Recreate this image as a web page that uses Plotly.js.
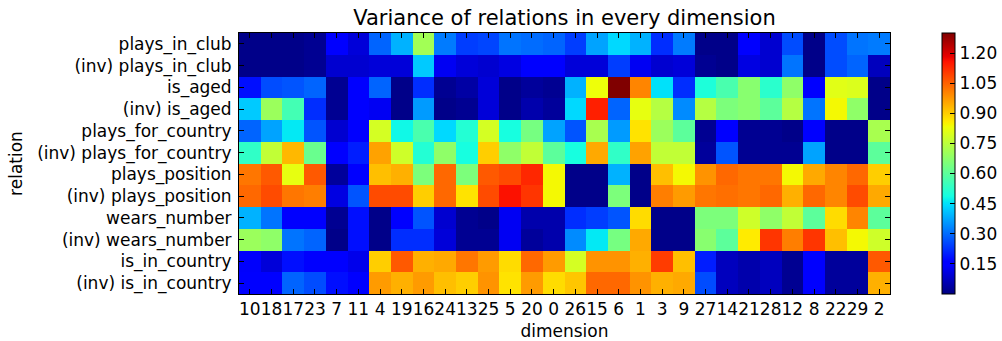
<!DOCTYPE html>
<html>
<head>
<meta charset="utf-8">
<script src="https://cdn.plot.ly/plotly-3.0.1.min.js"></script>
<style>
  html, body { margin: 0; padding: 0; background: #fff; }
  #chart { width: 1002px; height: 341px; }
</style>
</head>
<body>
<div id="chart"></div>
<script>
// Dimension order along the x axis (columns of the heatmap)
const dimensions = ["10","18","17","23","7","11","4","19","16","24","13","25","5","20","0",
                    "26","15","6","1","3","9","27","14","21","28","12","8","22","29","2"];

// Relations along the y axis, top to bottom
const relations = [
  "plays_in_club", "(inv) plays_in_club",
  "is_aged", "(inv) is_aged",
  "plays_for_country", "(inv) plays_for_country",
  "plays_position", "(inv) plays_position",
  "wears_number", "(inv) wears_number",
  "is_in_country", "(inv) is_in_country"
];

// Variance per relation, one value per dimension (same order as `dimensions`)
const playsInClub        = [0.01,0.01,0.01,0.02,0.16,0.10,0.29,0.39,0.71,0.32,0.24,0.25,0.31,0.30,0.29,0.24,0.37,0.44,0.39,0.22,0.32,0.01,0.01,0.15,0.09,0.26,0.01,0.26,0.31,0.32];
const invPlaysInClub     = [0.01,0.01,0.01,0.02,0.09,0.09,0.10,0.10,0.42,0.13,0.10,0.09,0.11,0.16,0.15,0.10,0.10,0.24,0.13,0.09,0.10,0.02,0.01,0.11,0.09,0.31,0.01,0.26,0.29,0.07];
const isAged             = [0.18,0.26,0.27,0.29,0.02,0.15,0.29,0.01,0.22,0.02,0.04,0.10,0.01,0.03,0.02,0.39,0.83,1.30,1.00,0.45,0.22,0.50,0.57,0.67,0.52,0.68,0.15,0.81,0.80,0.01];
const invIsAged          = [0.42,0.70,0.56,0.22,0.02,0.15,0.13,0.01,0.36,0.01,0.02,0.10,0.01,0.05,0.03,0.44,1.14,0.29,0.82,0.74,0.34,0.74,0.65,0.67,0.60,0.74,0.31,0.84,0.68,0.01];
const playsForCountry    = [0.29,0.37,0.46,0.27,0.09,0.16,0.79,0.48,0.57,0.44,0.51,0.79,0.49,0.64,0.37,0.27,0.72,0.36,0.87,0.70,0.60,0.02,0.15,0.02,0.02,0.01,0.15,0.01,0.01,0.72];
const invPlaysForCountry = [0.53,0.76,0.93,0.62,0.15,0.20,0.96,0.78,0.51,0.68,0.49,0.90,0.68,0.76,0.60,0.49,0.95,0.53,0.96,0.76,0.76,0.03,0.27,0.02,0.02,0.02,0.37,0.01,0.01,0.60];
const playsPosition      = [1.02,1.06,0.82,1.06,0.03,0.15,0.92,0.94,0.65,1.04,0.65,1.06,1.08,1.13,0.84,0.01,0.01,0.39,0.01,0.92,0.84,0.98,1.04,1.02,1.02,0.84,0.95,1.00,1.04,0.90];
const invPlaysPosition   = [1.04,1.08,1.02,1.01,0.11,0.27,1.08,1.08,0.90,1.04,0.87,1.08,1.16,1.11,0.84,0.01,0.01,0.65,0.01,1.01,0.97,1.02,1.03,1.02,1.04,0.94,1.04,1.00,1.08,0.95];
const wearsNumber        = [0.39,0.31,0.16,0.16,0.02,0.18,0.01,0.15,0.27,0.09,0.02,0.01,0.13,0.05,0.05,0.22,0.24,0.27,0.88,0.01,0.01,0.65,0.65,0.78,0.68,0.76,0.60,0.88,1.00,0.60];
const invWearsNumber     = [0.70,0.68,0.31,0.29,0.01,0.18,0.01,0.22,0.22,0.10,0.02,0.02,0.13,0.03,0.05,0.34,0.46,0.64,0.95,0.01,0.01,0.67,0.60,0.86,1.11,1.01,1.11,0.92,0.84,0.78];
const isInCountry        = [0.14,0.10,0.18,0.16,0.16,0.12,0.90,1.06,0.94,0.95,1.02,0.97,0.88,1.04,0.97,0.79,0.98,0.98,0.94,1.10,0.92,0.20,0.07,0.05,0.07,0.02,0.15,0.03,0.03,1.06];
const invIsInCountry     = [0.16,0.15,0.29,0.26,0.18,0.16,0.97,0.94,0.97,0.92,0.90,0.98,0.87,0.97,0.88,0.91,1.04,1.04,0.98,0.94,0.95,0.26,0.07,0.05,0.07,0.02,0.15,0.03,0.03,0.94];

// Colour bar ticks
const colorbarTicks = [0.15, 0.30, 0.45, 0.60, 0.75, 0.90, 1.05, 1.20];

const variance = [
  playsInClub, invPlaysInClub,
  isAged, invIsAged,
  playsForCountry, invPlaysForCountry,
  playsPosition, invPlaysPosition,
  wearsNumber, invWearsNumber,
  isInCountry, invIsInCountry
];

// Classic "jet" colormap, built from its piecewise-linear channel breakpoints
function jetColor(f) {
  const interp = (pts) => {
    for (let i = 1; i < pts.length; i++) {
      if (f <= pts[i][0]) {
        const [x0, y0] = pts[i - 1], [x1, y1] = pts[i];
        return y0 + (y1 - y0) * (f - x0) / (x1 - x0);
      }
    }
    return pts[pts.length - 1][1];
  };
  const r = interp([[0,0],[0.35,0],[0.66,1],[0.89,1],[1,0.5]]);
  const g = interp([[0,0],[0.125,0],[0.375,1],[0.64,1],[0.91,0],[1,0]]);
  const b = interp([[0,0.5],[0.11,1],[0.34,1],[0.65,0],[1,0]]);
  return `rgb(${Math.round(r*255)},${Math.round(g*255)},${Math.round(b*255)})`;
}
const jetStops = [0,0.11,0.125,0.34,0.35,0.375,0.64,0.65,0.66,0.89,0.91,1];
const jetScale = jetStops.map(s => [s, jetColor(s)]);

const FONT = "DejaVu Sans, Verdana, sans-serif";

const trace = {
  type: "heatmap",
  x: dimensions,
  y: relations,
  z: variance,
  colorscale: jetScale,
  zmin: 0,
  zmax: 1.30,
  xgap: 0,
  ygap: 0,
  hoverinfo: "skip",
  colorbar: {
    x: 1.0794,
    xanchor: "left",
    xpad: 0,
    ypad: 0,
    y: 0.5,
    yanchor: "middle",
    len: 1,
    lenmode: "fraction",
    thickness: 13,
    thicknessmode: "pixels",
    outlinewidth: 1,
    outlinecolor: "#000",
    ticks: "inside",
    ticklen: 5,
    tickwidth: 1,
    tickcolor: "#000",
    tickvals: colorbarTicks,
    ticktext: colorbarTicks.map(v => v.toFixed(2)),
    tickfont: { family: FONT, size: 17, color: "#000" },
    ticklabelstandoff: 2
  }
};

const layout = {
  width: 1002,
  height: 341,
  margin: { l: 239, r: 112, t: 33, b: 47, pad: 0, autoexpand: false },
  paper_bgcolor: "#fff",
  plot_bgcolor: "#fff",
  font: { family: FONT, color: "#000" },
  title: {
    text: "Variance of relations in every dimension",
    font: { family: FONT, size: 21, color: "#000" },
    x: 0.5, xref: "paper", xanchor: "center",
    y: 1 - 18 / 341, yref: "container", yanchor: "middle"
  },
  xaxis: {
    type: "category",
    tickangle: 0,
    ticks: "inside",
    ticklen: 5,
    tickwidth: 1,
    tickcolor: "#000",
    showline: true,
    linecolor: "#000",
    linewidth: 1,
    mirror: "ticks",
    showgrid: false,
    zeroline: false,
    automargin: false,
    tickfont: { family: FONT, size: 17, color: "#000" },
    title: { text: "dimension", font: { family: FONT, size: 17, color: "#000" }, standoff: 6 }
  },
  yaxis: {
    type: "category",
    autorange: "reversed",
    ticks: "inside",
    ticklen: 5,
    tickwidth: 1,
    tickcolor: "#000",
    showline: true,
    linecolor: "#000",
    linewidth: 1,
    mirror: "ticks",
    showgrid: false,
    zeroline: false,
    automargin: false,
    ticklabelstandoff: 3,
    tickfont: { family: FONT, size: 17, color: "#000" },
    title: { text: "relation", font: { family: FONT, size: 17, color: "#000" }, standoff: 10 }
  }
};

Plotly.newPlot("chart", [trace], layout, { displayModeBar: false, staticPlot: true });
</script>
</body>
</html>
